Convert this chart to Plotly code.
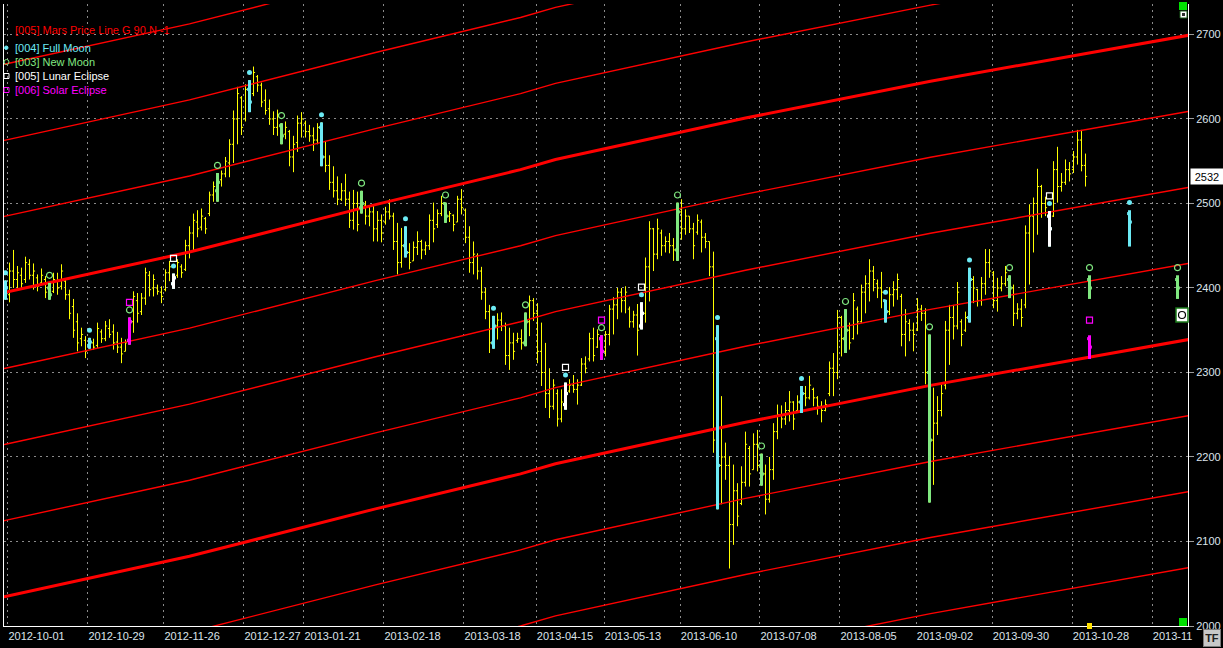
import plotly.graph_objects as go

# ---------------- data ----------------
tick_labels = ["2012-10-01", "2012-10-29", "2012-11-26", "2012-12-27", "2013-01-21", "2013-02-18",
               "2013-03-18", "2013-04-15", "2013-05-13", "2013-06-10", "2013-07-08", "2013-08-05",
               "2013-09-02", "2013-09-30", "2013-10-28", "2013-11"]
tick_bar_pos = [0.6, 20.6, 39.6, 59.6, 74.6, 94.6, 114.6, 132.7, 149.7, 168.7, 188.6, 208.6,
                227.7, 246.7, 266.7, 286.7]
y_ticks = [2000, 2100, 2200, 2300, 2400, 2500, 2600, 2700]

bar_high = [2409, 2430, 2445, 2426, 2424, 2437, 2434, 2429, 2416, 2423,
            2414, 2406, 2418, 2418, 2428, 2411, 2398, 2387, 2370, 2353,
            2343, 2341, 2340, 2359, 2351, 2361, 2363, 2357, 2348, 2341,
            2339, 2365, 2396, 2394, 2394, 2424, 2420, 2416, 2404, 2402,
            2422, 2432, 2417, 2434, 2428, 2457, 2473, 2488, 2492, 2494,
            2484, 2514, 2526, 2536, 2539, 2555, 2576, 2610, 2638, 2627,
            2641, 2646, 2662, 2652, 2643, 2635, 2623, 2609, 2611, 2595,
            2597, 2587, 2580, 2604, 2608, 2598, 2593, 2590, 2595, 2596,
            2574, 2557, 2544, 2532, 2524, 2535, 2514, 2516, 2514, 2515,
            2503, 2497, 2497, 2491, 2487, 2496, 2505, 2489, 2477, 2471,
            2473, 2453, 2455, 2467, 2457, 2455, 2487, 2501, 2493, 2509,
            2501, 2491, 2487, 2509, 2517, 2494, 2473, 2455, 2441, 2425,
            2400, 2380, 2367, 2370, 2371, 2359, 2353, 2347, 2347, 2351,
            2371, 2391, 2388, 2382, 2359, 2335, 2305, 2292, 2280, 2280,
            2288, 2292, 2297, 2292, 2317, 2319, 2347, 2353, 2351, 2344,
            2349, 2380, 2389, 2400, 2400, 2402, 2378, 2373, 2381, 2383,
            2436, 2479, 2471, 2482, 2469, 2461, 2465, 2459, 2501, 2505,
            2493, 2485, 2477, 2487, 2481, 2465, 2455, 2443, 2356, 2272,
            2217, 2201, 2191, 2169, 2189, 2230, 2213, 2228, 2232, 2204,
            2191, 2200, 2240, 2262, 2261, 2265, 2278, 2266, 2273, 2284,
            2284, 2296, 2282, 2272, 2266, 2268, 2313, 2323, 2374, 2367,
            2375, 2359, 2394, 2378, 2404, 2415, 2434, 2426, 2410, 2419,
            2386, 2401, 2408, 2417, 2393, 2375, 2363, 2359, 2388, 2380,
            2376, 2345, 2282, 2272, 2286, 2361, 2380, 2380, 2407, 2363,
            2372, 2424, 2414, 2399, 2413, 2446, 2446, 2420, 2412, 2414,
            2426, 2415, 2404, 2382, 2387, 2474, 2499, 2507, 2541, 2522,
            2508, 2491, 2550, 2567, 2536, 2552, 2549, 2562, 2587, 2587,
            2559]
bar_low = [2386, 2383, 2400, 2400, 2398, 2406, 2410, 2398, 2396, 2404,
           2388, 2386, 2394, 2392, 2398, 2386, 2363, 2341, 2325, 2331,
           2317, 2328, 2327, 2329, 2335, 2337, 2341, 2327, 2323, 2311,
           2325, 2333, 2347, 2359, 2368, 2380, 2390, 2390, 2392, 2382,
           2396, 2408, 2399, 2412, 2412, 2420, 2435, 2444, 2460, 2468,
           2464, 2485, 2502, 2502, 2520, 2531, 2531, 2548, 2570, 2581,
           2597, 2608, 2627, 2632, 2614, 2605, 2593, 2581, 2580, 2570,
           2576, 2544, 2537, 2561, 2578, 2578, 2573, 2562, 2570, 2544,
           2537, 2516, 2507, 2498, 2503, 2497, 2471, 2469, 2467, 2488,
           2475, 2473, 2455, 2455, 2454, 2475, 2481, 2445, 2416, 2424,
           2436, 2422, 2432, 2439, 2434, 2439, 2445, 2454, 2471, 2485,
           2477, 2478, 2467, 2478, 2487, 2453, 2418, 2416, 2410, 2386,
           2363, 2323, 2328, 2339, 2349, 2309, 2303, 2315, 2335, 2327,
           2331, 2343, 2361, 2311, 2284, 2258, 2246, 2256, 2236, 2241,
           2256, 2276, 2276, 2262, 2284, 2299, 2313, 2313, 2329, 2315,
           2319, 2332, 2345, 2363, 2371, 2370, 2353, 2353, 2320, 2351,
           2359, 2384, 2420, 2434, 2438, 2442, 2441, 2432, 2432, 2457,
           2463, 2465, 2434, 2463, 2442, 2447, 2414, 2205, 2138, 2144,
           2173, 2068, 2096, 2118, 2143, 2165, 2165, 2185, 2183, 2166,
           2132, 2146, 2173, 2221, 2234, 2238, 2242, 2232, 2252, 2252,
           2260, 2268, 2260, 2250, 2241, 2254, 2272, 2272, 2292, 2319,
           2323, 2327, 2339, 2345, 2359, 2370, 2384, 2396, 2388, 2376,
           2359, 2368, 2378, 2386, 2331, 2319, 2337, 2325, 2349, 2361,
           2286, 2146, 2167, 2226, 2248, 2280, 2309, 2339, 2351, 2331,
           2348, 2359, 2382, 2378, 2379, 2392, 2412, 2376, 2372, 2396,
           2402, 2388, 2355, 2363, 2354, 2376, 2404, 2442, 2463, 2483,
           2485, 2449, 2484, 2501, 2514, 2522, 2526, 2536, 2546, 2538,
           2520]
bar_open = [2395, 2392, 2420, 2410, 2415, 2410, 2428, 2415, 2412, 2406,
            2410, 2400, 2396, 2408, 2402, 2408, 2392, 2378, 2360, 2340,
            2338, 2332, 2335, 2332, 2348, 2340, 2352, 2348, 2336, 2330,
            2325, 2338, 2360, 2385, 2372, 2388, 2415, 2400, 2400, 2395,
            2398, 2418, 2405, 2415, 2425, 2422, 2450, 2465, 2478, 2472,
            2482, 2488, 2510, 2515, 2528, 2535, 2548, 2570, 2600, 2625,
            2600, 2635, 2630, 2650, 2640, 2622, 2612, 2600, 2590, 2592,
            2582, 2585, 2555, 2572, 2595, 2595, 2585, 2580, 2575, 2590,
            2555, 2545, 2525, 2515, 2505, 2515, 2505, 2480, 2500, 2495,
            2498, 2485, 2490, 2470, 2480, 2478, 2490, 2485, 2455, 2430,
            2450, 2442, 2432, 2448, 2455, 2445, 2450, 2480, 2475, 2488,
            2500, 2485, 2486, 2478, 2505, 2492, 2460, 2430, 2438, 2420,
            2395, 2372, 2335, 2355, 2362, 2355, 2320, 2335, 2338, 2340,
            2335, 2360, 2385, 2370, 2325, 2300, 2275, 2260, 2275, 2245,
            2262, 2278, 2285, 2280, 2285, 2310, 2316, 2340, 2330, 2340,
            2325, 2345, 2375, 2380, 2395, 2385, 2375, 2360, 2368, 2355,
            2370, 2425, 2470, 2440, 2465, 2450, 2455, 2450, 2445, 2490,
            2470, 2485, 2470, 2466, 2478, 2460, 2455, 2425, 2340, 2190,
            2200, 2190, 2120, 2160, 2145, 2170, 2210, 2185, 2215, 2190,
            2180, 2150, 2185, 2230, 2250, 2245, 2255, 2265, 2255, 2265,
            2275, 2270, 2280, 2270, 2260, 2255, 2275, 2305, 2300, 2365,
            2340, 2350, 2340, 2375, 2360, 2395, 2405, 2420, 2405, 2400,
            2385, 2372, 2392, 2398, 2390, 2345, 2358, 2350, 2350, 2375,
            2370, 2300, 2220, 2240, 2255, 2285, 2350, 2365, 2355, 2360,
            2350, 2365, 2410, 2398, 2385, 2405, 2430, 2418, 2385, 2400,
            2405, 2410, 2400, 2370, 2375, 2380, 2465, 2485, 2500, 2520,
            2500, 2485, 2485, 2540, 2520, 2525, 2540, 2540, 2555, 2575,
            2545]
bar_close = [2400, 2420, 2410, 2418, 2405, 2430, 2415, 2420, 2402, 2415,
             2395, 2392, 2410, 2400, 2420, 2392, 2370, 2350, 2335, 2345,
             2325, 2336, 2330, 2352, 2340, 2355, 2345, 2335, 2330, 2322,
             2335, 2360, 2390, 2370, 2388, 2418, 2398, 2410, 2396, 2390,
             2418, 2425, 2412, 2430, 2418, 2450, 2465, 2480, 2470, 2485,
             2470, 2510, 2520, 2525, 2535, 2550, 2570, 2600, 2630, 2590,
             2635, 2620, 2655, 2640, 2620, 2610, 2600, 2590, 2605, 2580,
             2590, 2555, 2570, 2595, 2600, 2585, 2580, 2575, 2590, 2555,
             2545, 2525, 2515, 2505, 2515, 2505, 2480, 2500, 2475, 2500,
             2485, 2490, 2470, 2480, 2465, 2490, 2485, 2455, 2430, 2450,
             2442, 2430, 2448, 2455, 2445, 2450, 2480, 2470, 2488, 2500,
             2485, 2488, 2475, 2505, 2495, 2460, 2430, 2440, 2420, 2395,
             2372, 2335, 2355, 2362, 2355, 2320, 2335, 2325, 2340, 2335,
             2360, 2385, 2370, 2325, 2300, 2275, 2260, 2285, 2245, 2265,
             2275, 2285, 2280, 2285, 2310, 2305, 2340, 2320, 2345, 2325,
             2345, 2375, 2380, 2395, 2385, 2395, 2360, 2368, 2350, 2370,
             2425, 2470, 2440, 2470, 2450, 2455, 2450, 2445, 2490, 2470,
             2485, 2470, 2450, 2480, 2460, 2455, 2425, 2220, 2190, 2200,
             2190, 2120, 2160, 2130, 2170, 2215, 2180, 2215, 2190, 2180,
             2150, 2185, 2230, 2250, 2245, 2255, 2265, 2245, 2265, 2275,
             2270, 2285, 2270, 2260, 2255, 2262, 2305, 2300, 2365, 2340,
             2350, 2335, 2385, 2360, 2395, 2405, 2420, 2410, 2400, 2395,
             2372, 2392, 2398, 2410, 2345, 2360, 2350, 2345, 2375, 2370,
             2300, 2220, 2240, 2255, 2275, 2350, 2365, 2355, 2395, 2345,
             2365, 2410, 2400, 2385, 2405, 2430, 2420, 2385, 2400, 2405,
             2418, 2400, 2370, 2375, 2365, 2465, 2485, 2500, 2520, 2500,
             2495, 2470, 2540, 2520, 2525, 2540, 2535, 2555, 2575, 2545,
             2532]
bar_idx = list(range(len(bar_high)))
last_price = 2532

# astro events (bar positions)
full_moon_idx = [0, 21, 42, 61, 79, 100, 122, 140, 159, 178, 199, 220, 241, 261]
new_moon_idx = [11, 31, 53, 69, 89, 110, 130, 149, 168, 189, 210, 231, 251]
lunar_ecl_idx = [42, 140, 159, 261]
solar_ecl_idx = [31, 149]

# projected event bars beyond the last session
fut_new_idx = [271, 293]
fut_new_ohlc = [(2410, 2415, 2387, 2400), (2410, 2415, 2387, 2400)]
fut_full_idx = [281]
fut_full_ohlc = [(2488, 2492, 2449, 2478)]
fut_solar_idx = [271]
fut_solar_ohlc = [(2340, 2344, 2316, 2330)]

# Mars price line (base harmonic) read at bar positions, plus 90-unit harmonics
mars_idx = [-1, 0, 46, 92.5, 128.75, 137.5, 185, 231.25, 296]
mars_base = [2034, 2035, 2082.5, 2138.6, 2180, 2192, 2241, 2284.7, 2339.2]
mars_offsets = [-270, -180, -90, 0, 90, 180, 270, 360, 450, 540, 630]

# ---------------- colours ----------------
C_BAR = "#FFFF00"
C_FULL = "#6CEAF4"
C_NEW = "#80E880"
C_LUNAR = "#FFFFFF"
C_SOLAR = "#FF00FF"
C_MARS = "#FF0000"
C_GRID = "#8A8A8A"
C_TXT = "#DCE4EC"

W, H = 1223, 648
L_PX, R_PX, T_PX, B_PX = 4, 1188, 4, 626
X_RANGE = [-0.375, 295.625]
Y_RANGE = [2000, 2736]


def px(xp):
    return (xp - L_PX) / (R_PX - L_PX)


def py(yp):
    return 1 - (yp - T_PX) / (B_PX - T_PX)


fig = go.Figure()

# Mars price lines
for off in mars_offsets:
    thick = off % 360 == 0
    fig.add_trace(go.Scatter(
        x=mars_idx, y=[b + off for b in mars_base], mode="lines",
        line=dict(color=C_MARS, width=3 if thick else 1.4),
        hoverinfo="skip", showlegend=False))

# price bars
fig.add_trace(go.Ohlc(
    x=bar_idx, open=bar_open, high=bar_high, low=bar_low, close=bar_close,
    increasing=dict(line=dict(color=C_BAR, width=1)),
    decreasing=dict(line=dict(color=C_BAR, width=1)),
    tickwidth=0.4, showlegend=False, hoverinfo="skip"))


def seg_trace(idxs, ohlc):
    xs, ys = [], []
    for i, (o, h, l, c) in zip(idxs, ohlc):
        xs += [i, i, None, i - 0.6, i, None, i, i + 0.6, None]
        ys += [l, h, None, o, o, None, c, c, None]
    return xs, ys


def event_ohlc(idxs):
    return [(bar_open[i], bar_high[i], bar_low[i], bar_close[i]) for i in idxs]


layers = [
    (new_moon_idx, event_ohlc(new_moon_idx), C_NEW),
    (fut_new_idx, fut_new_ohlc, C_NEW),
    (full_moon_idx, event_ohlc(full_moon_idx), C_FULL),
    (fut_full_idx, fut_full_ohlc, C_FULL),
    (lunar_ecl_idx, event_ohlc(lunar_ecl_idx), C_LUNAR),
    (solar_ecl_idx, event_ohlc(solar_ecl_idx), C_SOLAR),
    (fut_solar_idx, fut_solar_ohlc, C_SOLAR),
]
for idxs, ohlc, col in layers:
    xs, ys = seg_trace(idxs, ohlc)
    fig.add_trace(go.Scatter(x=xs, y=ys, mode="lines", line=dict(color=col, width=3),
                             hoverinfo="skip", showlegend=False, connectgaps=False))

# event markers above bars
full_x = full_moon_idx + fut_full_idx
full_h = [bar_high[i] for i in full_moon_idx] + [o[1] for o in fut_full_ohlc]
new_x = new_moon_idx + fut_new_idx
new_h = [bar_high[i] for i in new_moon_idx] + [o[1] for o in fut_new_ohlc]
lun_x = lunar_ecl_idx
lun_h = [bar_high[i] for i in lunar_ecl_idx]
sol_x = solar_ecl_idx + fut_solar_idx
sol_h = [bar_high[i] for i in solar_ecl_idx] + [o[1] for o in fut_solar_ohlc]

fig.add_trace(go.Scatter(x=full_x, y=[h + 9 for h in full_h], mode="markers",
                         marker=dict(symbol="circle", size=5, color=C_FULL),
                         hoverinfo="skip", showlegend=False))
fig.add_trace(go.Scatter(x=new_x, y=[h + 9 for h in new_h], mode="markers",
                         marker=dict(symbol="circle-open", size=6, color=C_NEW, line=dict(width=1.2)),
                         hoverinfo="skip", showlegend=False))
fig.add_trace(go.Scatter(x=lun_x, y=[h + 18 for h in lun_h], mode="markers",
                         marker=dict(symbol="square-open", size=6, color=C_LUNAR, line=dict(width=1.2)),
                         hoverinfo="skip", showlegend=False))
fig.add_trace(go.Scatter(x=sol_x, y=[h + 18 for h in sol_h], mode="markers",
                         marker=dict(symbol="square-open", size=6, color=C_SOLAR, line=dict(width=1.2)),
                         hoverinfo="skip", showlegend=False))

FONT = "Liberation Sans, Arial, sans-serif"
annotations = []
# legend texts
legend_items = [
    ("[005] Mars Price Line G 90 N -1", C_MARS, 30),
    ("[004] Full Moon", C_FULL, 48),
    ("[003] New Moon", C_NEW, 62),
    ("[005] Lunar Eclipse", C_LUNAR, 76),
    ("[006] Solar Eclipse", C_SOLAR, 90),
]
for txt, col, yy in legend_items:
    annotations.append(dict(x=px(13), y=py(yy), xref="paper", yref="paper", text=txt,
                            showarrow=False, xanchor="left", yanchor="middle",
                            font=dict(family=FONT, size=11, color=col)))
# last price box
annotations.append(dict(x=px(1190), y=last_price, xref="paper", yref="y", text=str(last_price),
                        showarrow=False, xanchor="left", yanchor="middle", bgcolor="#FFFFFF",
                        width=30, height=13, borderpad=1,
                        font=dict(family=FONT, size=11, color="#000000")))
# TF button
annotations.append(dict(x=px(1212), y=py(638), xref="paper", yref="paper", text="<b>TF</b>",
                        showarrow=False, xanchor="center", yanchor="middle", bgcolor="#C8C8C8",
                        bordercolor="#7A7A7A", borderwidth=1, width=14, height=14,
                        font=dict(family=FONT, size=11, color="#202020")))

shapes = []
# legend symbols
shapes.append(dict(type="circle", xref="paper", yref="paper", x0=px(4.5), x1=px(8), y0=py(49.5), y1=py(46),
                   fillcolor=C_FULL, line=dict(color=C_FULL, width=1)))
shapes.append(dict(type="circle", xref="paper", yref="paper", x0=px(4), x1=px(9), y0=py(64.5), y1=py(59.5),
                   line=dict(color=C_NEW, width=1)))
shapes.append(dict(type="rect", xref="paper", yref="paper", x0=px(4), x1=px(9), y0=py(78.5), y1=py(73.5),
                   line=dict(color=C_LUNAR, width=1)))
shapes.append(dict(type="rect", xref="paper", yref="paper", x0=px(4), x1=px(9), y0=py(92.5), y1=py(87.5),
                   line=dict(color=C_SOLAR, width=1)))
# chart widgets
shapes.append(dict(type="rect", xref="paper", yref="paper", x0=px(1179), x1=px(1187), y0=py(10), y1=py(2),
                   fillcolor="#00E000", line=dict(width=0)))
shapes.append(dict(type="rect", xref="paper", yref="paper", x0=px(1180), x1=px(1187), y0=py(18), y1=py(11),
                   fillcolor="#FFFFFF", line=dict(color="#1A5A1A", width=1)))
shapes.append(dict(type="rect", xref="paper", yref="paper", x0=px(1182), x1=px(1185), y0=py(16), y1=py(13),
                   fillcolor="#303030", line=dict(width=0)))
shapes.append(dict(type="rect", xref="paper", yref="paper", x0=px(1179), x1=px(1187), y0=py(626), y1=py(618),
                   fillcolor="#00E000", line=dict(width=0)))
shapes.append(dict(type="rect", xref="paper", yref="paper", x0=px(1087), x1=px(1092), y0=py(629), y1=py(623),
                   fillcolor="#FFE000", line=dict(width=0)))
shapes.append(dict(type="rect", xref="paper", yref="paper", x0=px(1176), x1=px(1188), y0=py(322), y1=py(308),
                   fillcolor="#FFFFFF", line=dict(color="#1A7A1A", width=1.5)))
shapes.append(dict(type="circle", xref="paper", yref="paper", x0=px(1178.5), x1=px(1185.5), y0=py(318.5), y1=py(311.5),
                   line=dict(color="#000000", width=1.2)))

fig.update_layout(
    width=W, height=H,
    margin=dict(l=L_PX, r=W - R_PX, t=T_PX, b=H - B_PX, autoexpand=False),
    paper_bgcolor="#000000", plot_bgcolor="#000000",
    showlegend=False,
    annotations=annotations, shapes=shapes,
    xaxis=dict(
        range=X_RANGE, rangeslider=dict(visible=False),
        tickvals=tick_bar_pos, ticktext=tick_labels, ticks="", tickangle=0,
        ticklabelposition="outside right", automargin=False,
        tickfont=dict(family=FONT, size=11, color=C_TXT),
        showgrid=True, gridcolor=C_GRID, gridwidth=1, griddash="2px,4px",
        showline=True, linecolor="#FFFFFF", linewidth=1, zeroline=False,
        fixedrange=True,
    ),
    yaxis=dict(
        range=Y_RANGE, side="right", tickvals=y_ticks, automargin=False,
        ticks="outside", ticklen=5, tickcolor="#9A9A9A",
        tickfont=dict(family=FONT, size=11, color=C_TXT),
        showgrid=True, gridcolor=C_GRID, gridwidth=1, griddash="2px,4px",
        showline=True, linecolor="#FFFFFF", linewidth=1, mirror=True, zeroline=False,
        fixedrange=True,
    ),
)

fig.write_html("out.html",
               config={"displayModeBar": False},
               post_script="document.body.style.margin='0px';document.body.style.padding='0px';"
                           "document.body.style.background='#000000';")
